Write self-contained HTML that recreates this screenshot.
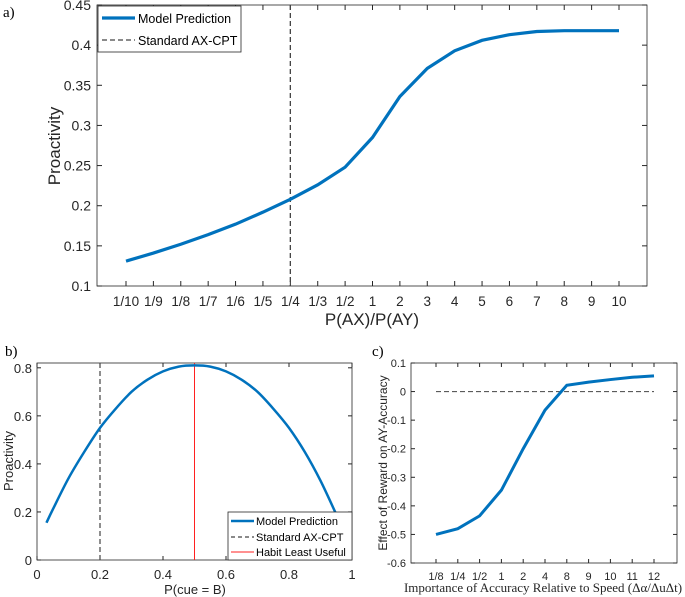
<!DOCTYPE html>
<html><head><meta charset="utf-8"><style>
body{margin:0;background:#fff;}
svg{display:block;font-family:"Liberation Sans",sans-serif;}
</style></head><body>
<svg id="s" width="685" height="597"></svg>
<script>
// Panel a data
const aCats=["1/10","1/9","1/8","1/7","1/6","1/5","1/4","1/3","1/2","1","2","3","4","5","6","7","8","9","10"];
const aVals=[0.131,0.141,0.152,0.164,0.177,0.192,0.208,0.226,0.248,0.285,0.336,0.371,0.393,0.406,0.413,0.417,0.418,0.418,0.418];
const aYTicks=[0.1,0.15,0.2,0.25,0.3,0.35,0.4,0.45];
const aStdIndex=6;
// Panel b data
const bX=[0.03,0.05,0.1,0.15,0.2,0.25,0.3,0.35,0.4,0.45,0.5,0.55,0.6,0.65,0.7,0.75,0.8,0.85,0.9,0.95];
const bY=[0.155,0.21,0.34,0.45,0.55,0.63,0.70,0.75,0.785,0.805,0.81,0.805,0.785,0.75,0.70,0.63,0.55,0.45,0.33,0.19];
const bXTicks=[0,0.2,0.4,0.6,0.8,1];
const bYTicks=[0,0.2,0.4,0.6,0.8];
const bStd=0.2, bHabit=0.5;
// Panel c data
const cCats=["1/8","1/4","1/2","1","2","4","8","9","10","11","12"];
const cVals=[-0.50,-0.48,-0.435,-0.345,-0.2,-0.065,0.022,0.033,0.042,0.05,0.055];
const cYTicks=[-0.6,-0.5,-0.4,-0.3,-0.2,-0.1,0,0.1];

const S=document.getElementById('s');
const NS='http://www.w3.org/2000/svg';
function E(t,at,txt,name,par){const e=document.createElementNS(NS,t);for(const k in at)e.setAttribute(k,at[k]);if(txt!=null)e.textContent=txt;


(par||S).appendChild(e);return e;}
function lin(d0,d1,r0,r1){return v=>r0+(v-d0)*(r1-r0)/(d1-d0);}
function smooth(p){let d='M'+p[0][0]+','+p[0][1];for(let i=0;i<p.length-1;i++){const p0=p[i-1]||p[i],p1=p[i],p2=p[i+1],p3=p[i+2]||p2;
d+=' C'+(p1[0]+(p2[0]-p0[0])/6)+','+(p1[1]+(p2[1]-p0[1])/6)+' '+(p2[0]-(p3[0]-p1[0])/6)+','+(p2[1]-(p3[1]-p1[1])/6)+' '+p2[0]+','+p2[1];}return d;}
const BL='#0072BD';

// ---- Panel a
{const L=97,R=647,T=5,B=286;
const x=lin(0,aCats.length-1,126,619), y=lin(0.1,0.45,B,T);
E('rect',{x:L,y:T,width:R-L,height:B-T,fill:'none',stroke:'#262626','stroke-width':0.8},null,'plot-a-frame');
aYTicks.forEach(v=>{const yy=y(v);E('line',{x1:L,x2:L+5,y1:yy,y2:yy,stroke:'#262626'},null,'y-tick-a');E('line',{x1:R,x2:R-5,y1:yy,y2:yy,stroke:'#262626'},null,'y-tick-a');
E('text',{x:L-6,y:yy+5,'text-anchor':'end','font-size':14,fill:'#262626'},String(v),'y-tick-label-a');});
aCats.forEach((c,i)=>{const xx=x(i);E('line',{x1:xx,x2:xx,y1:B,y2:B-5,stroke:'#262626'},null,'x-tick-a');E('line',{x1:xx,x2:xx,y1:T,y2:T+5,stroke:'#262626'},null,'x-tick-a');
E('text',{x:xx,y:B+20,'text-anchor':'middle','font-size':13.5,fill:'#262626'},c,'x-tick-label-a');});
E('line',{x1:x(aStdIndex),x2:x(aStdIndex),y1:T,y2:B,stroke:'#444','stroke-width':1.3,'stroke-dasharray':'5,3'},null,'standard-axcpt-line-a');
E('polyline',{points:aVals.map((v,i)=>x(i)+','+y(v)).join(' '),fill:'none',stroke:BL,'stroke-width':3.2},null,'model-prediction-line-a');
E('text',{x:372,y:325,'text-anchor':'middle','font-size':17,fill:'#262626'},'P(AX)/P(AY)','x-axis-title-a');
E('text',{x:0,y:0,'text-anchor':'middle','font-size':17,fill:'#262626',transform:'translate(60,146) rotate(-90)'},'Proactivity','y-axis-title-a');
E('text',{x:3,y:17,'font-size':15,'font-family':'Liberation Serif',fill:'#000'},'a)','panel-label-a');
E('rect',{x:98,y:6,width:143,height:46,fill:'#fff',stroke:'#262626','stroke-width':0.8},null,'legend-a');
E('line',{x1:102,x2:135,y1:18,y2:18,stroke:BL,'stroke-width':3.2},null,'legend-entry-model-a');
E('text',{x:138,y:23,'font-size':12.5,fill:'#000'},'Model Prediction','legend-label-model-a');
E('line',{x1:102,x2:135,y1:40,y2:40,stroke:'#444','stroke-width':1.3,'stroke-dasharray':'5,3'},null,'legend-entry-std-a');
E('text',{x:138,y:45,'font-size':12.5,fill:'#000'},'Standard AX-CPT','legend-label-std-a');}

// ---- Panel b
{const L=37,R=352,T=363,B=560;
const x=lin(0,1,L,R), y=lin(0,0.82,B,T);
E('rect',{x:L,y:T,width:R-L,height:B-T,fill:'none',stroke:'#262626','stroke-width':0.8},null,'plot-b-frame');
bYTicks.forEach(v=>{const yy=y(v);E('line',{x1:L,x2:L+4,y1:yy,y2:yy,stroke:'#262626'},null,'y-tick-b');E('line',{x1:R,x2:R-4,y1:yy,y2:yy,stroke:'#262626'},null,'y-tick-b');
E('text',{x:L-5,y:yy+5,'text-anchor':'end','font-size':13,fill:'#262626'},String(v),'y-tick-label-b');});
bXTicks.forEach(v=>{const xx=x(v);E('line',{x1:xx,x2:xx,y1:B,y2:B-4,stroke:'#262626'},null,'x-tick-b');E('line',{x1:xx,x2:xx,y1:T,y2:T+4,stroke:'#262626'},null,'x-tick-b');
E('text',{x:xx,y:B+19,'text-anchor':'middle','font-size':13,fill:'#262626'},String(v),'x-tick-label-b');});
E('line',{x1:x(bStd),x2:x(bStd),y1:T,y2:B,stroke:'#444','stroke-width':1.2,'stroke-dasharray':'5,3'},null,'standard-axcpt-line-b');
E('line',{x1:x(bHabit),x2:x(bHabit),y1:T,y2:B,stroke:'#FF2020','stroke-width':1},null,'habit-least-useful-line');
E('path',{d:smooth(bX.map((v,i)=>[x(v),y(bY[i])])),fill:'none',stroke:BL,'stroke-width':2.5},null,'model-prediction-curve-b');
E('text',{x:195,y:594,'text-anchor':'middle','font-size':13,fill:'#262626'},'P(cue = B)','x-axis-title-b');
E('text',{x:0,y:0,'text-anchor':'middle','font-size':13,fill:'#262626',transform:'translate(13,461) rotate(-90)'},'Proactivity','y-axis-title-b');
E('text',{x:5,y:356,'font-size':15,'font-family':'Liberation Serif',fill:'#000'},'b)','panel-label-b');
E('rect',{x:228,y:512,width:124,height:48,fill:'#fff',stroke:'#262626','stroke-width':0.8},null,'legend-b');
E('line',{x1:231,x2:254,y1:521,y2:521,stroke:BL,'stroke-width':2.5},null,'legend-entry-model-b');
E('text',{x:256,y:525,'font-size':11,fill:'#000'},'Model Prediction','legend-label-model-b');
E('line',{x1:231,x2:254,y1:537,y2:537,stroke:'#444','stroke-width':1.2,'stroke-dasharray':'4,3'},null,'legend-entry-std-b');
E('text',{x:256,y:541,'font-size':11,fill:'#000'},'Standard AX-CPT','legend-label-std-b');
E('line',{x1:231,x2:254,y1:552,y2:552,stroke:'#FF2020','stroke-width':1},null,'legend-entry-habit');
E('text',{x:256,y:556,'font-size':11,fill:'#000'},'Habit Least Useful','legend-label-habit');}

// ---- Panel c
{const L=411,R=677,T=363,B=563;
const x=lin(0,cCats.length-1,436,654), y=lin(-0.6,0.1,B,T);
E('rect',{x:L,y:T,width:R-L,height:B-T,fill:'none',stroke:'#262626','stroke-width':0.8},null,'plot-c-frame');
cYTicks.forEach(v=>{const yy=y(v);E('line',{x1:L,x2:L+4,y1:yy,y2:yy,stroke:'#262626'},null,'y-tick-c');E('line',{x1:R,x2:R-4,y1:yy,y2:yy,stroke:'#262626'},null,'y-tick-c');
E('text',{x:L-5,y:yy+4,'text-anchor':'end','font-size':11,fill:'#262626'},String(v),'y-tick-label-c');});
cCats.forEach((c,i)=>{const xx=x(i);E('line',{x1:xx,x2:xx,y1:B,y2:B-4,stroke:'#262626'},null,'x-tick-c');E('line',{x1:xx,x2:xx,y1:T,y2:T+4,stroke:'#262626'},null,'x-tick-c');
E('text',{x:xx,y:B+17,'text-anchor':'middle','font-size':11,fill:'#262626'},c,'x-tick-label-c');});
E('line',{x1:x(0),x2:x(cCats.length-1),y1:y(0),y2:y(0),stroke:'#444','stroke-width':1,'stroke-dasharray':'5,3'},null,'zero-reference-line');
E('polyline',{points:cVals.map((v,i)=>x(i)+','+y(v)).join(' '),fill:'none',stroke:BL,'stroke-width':3},null,'effect-line-c');
E('text',{x:543,y:592,'text-anchor':'middle','font-size':13,'font-family':'Liberation Serif',fill:'#262626'},'Importance of Accuracy Relative to Speed (Δα/Δu\u0394t)','x-axis-title-c');
E('text',{x:0,y:0,'text-anchor':'middle','font-size':12,fill:'#262626',transform:'translate(387,463) rotate(-90)'},'Effect of Reward on AY-Accuracy','y-axis-title-c');
E('text',{x:372,y:356,'font-size':15,'font-family':'Liberation Serif',fill:'#000'},'c)','panel-label-c');}
</script>
</body></html>
